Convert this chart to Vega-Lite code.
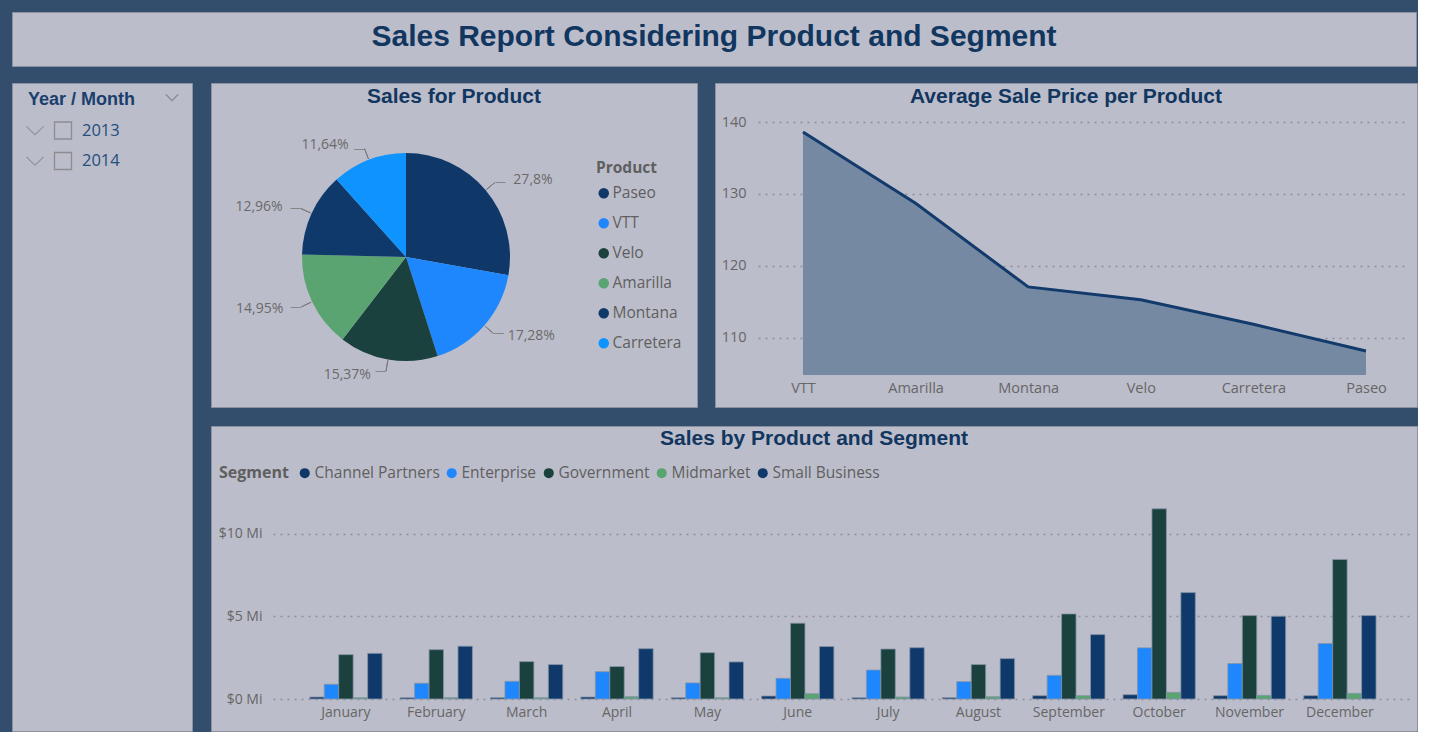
{
  "$schema": "https://vega.github.io/schema/vega-lite/v6.json",
  "background": "#334e6c",
  "padding": {"left": 11, "top": 11, "right": 0, "bottom": 0},
  "spacing": 15,
  "resolve": {"scale": {"color": "independent"}, "legend": {"color": "independent"}},
  "config": {
    "view": {"fill": "#bcbdca", "stroke": "#8a92a2", "strokeWidth": 1},
    "locale": {"number": {"decimal": ",", "thousands": ".", "grouping": [3], "currency": ["$", ""]}},
    "font": "Open Sans",
    "title": {"font": "Liberation Sans", "fontSize": 21, "fontWeight": "bold", "color": "#11365f", "anchor": "middle", "baseline": "alphabetic"},
    "axis": {"domain": false, "ticks": false, "tickSize": 0, "labelFont": "Open Sans", "labelColor": "#666666", "gridColor": "#8d909b", "gridDash": [2, 5], "gridWidth": 1.5},
    "legend": {"labelFont": "Open Sans", "titleFont": "Open Sans", "labelColor": "#5f5f5f", "titleColor": "#5f5f5f", "symbolType": "circle", "symbolStrokeWidth": 0}
  },
  "vconcat": [
    {
      "width": 1404,
      "height": 54,
      "view": {"fill": "#bcbdca", "stroke": "#8a92a2", "strokeWidth": 1},
      "data": {"values": [{"Report": "Sales Report Considering Product and Segment"}]},
      "mark": {"type": "text", "font": "Liberation Sans", "fontSize": 30, "fontWeight": "bold", "color": "#11365f", "baseline": "alphabetic", "dy": 7},
      "encoding": {"text": {"field": "Report", "type": "nominal"}}
    },
    {
      "hconcat": [
        {
          "width": 180,
          "height": 648,
          "view": {"fill": "#bcbdca", "stroke": "#8a92a2", "strokeWidth": 1},
          "data": {"values": [
            {"Item": "Year / Month", "Level": "Hierarchy"},
            {"Item": "2013", "Level": "Year"},
            {"Item": "2014", "Level": "Year"}
          ]},
          "encoding": {"y": {"field": "Item", "type": "ordinal", "sort": null, "scale": {"type": "point", "range": [17, 78], "padding": 0}, "axis": null}},
          "layer": [
            {
              "transform": [{"filter": "datum.Level === 'Hierarchy'"}],
              "mark": {"type": "text", "align": "left", "baseline": "middle", "dx": -74, "font": "Liberation Sans", "fontSize": 18, "fontWeight": "bold", "color": "#1a3f6e"},
              "encoding": {"text": {"field": "Item", "type": "nominal"}}
            },
            {
              "transform": [{"filter": "datum.Level === 'Hierarchy'"}],
              "mark": {"type": "point", "shape": "M-1,-0.5L0,0.5L1,-0.5", "size": 150, "filled": false, "color": "#707070", "strokeWidth": 1.2, "xOffset": 70, "yOffset": -2.5}
            },
            {
              "transform": [{"filter": "datum.Level === 'Year'"}],
              "mark": {"type": "point", "shape": "M-1,-0.48L0,0.48L1,-0.48", "size": 300, "filled": false, "color": "#808080", "strokeWidth": 1.1, "xOffset": -67}
            },
            {
              "transform": [{"filter": "datum.Level === 'Year'"}],
              "mark": {"type": "point", "shape": "square", "size": 289, "filled": false, "color": "#7a7a7a", "strokeWidth": 1.3, "xOffset": -39}
            },
            {
              "transform": [{"filter": "datum.Level === 'Year'"}],
              "mark": {"type": "text", "align": "left", "baseline": "middle", "dx": -20, "fontSize": 16.5, "color": "#234e7e", "font": "Open Sans"},
              "encoding": {"text": {"field": "Item", "type": "nominal"}}
            }
          ]
        },
        {
          "vconcat": [
            {
              "hconcat": [
                {
                  "width": 486,
                  "height": 324,
                  "view": {"fill": "#bcbdca", "stroke": "#8a92a2", "strokeWidth": 1},
                  "title": {"text": "Sales for Product", "offset": -24},
                  "data": {"values": [
                    {"Product": "Paseo", "Share": 0.278},
                    {"Product": "VTT", "Share": 0.1728},
                    {"Product": "Velo", "Share": 0.1537},
                    {"Product": "Amarilla", "Share": 0.1495},
                    {"Product": "Montana", "Share": 0.1296},
                    {"Product": "Carretera", "Share": 0.1164}
                  ]},
                  "encoding": {
                    "theta": {"field": "Share", "type": "quantitative", "stack": true},
                    "order": {"field": "Share", "type": "quantitative", "sort": "descending"}
                  },
                  "layer": [
                    {
                      "mark": {"type": "arc", "radius": 104, "xOffset": -48, "yOffset": 12},
                      "encoding": {
                        "color": {
                          "field": "Product", "type": "nominal", "sort": null,
                          "scale": {"domain": ["Paseo", "VTT", "Velo", "Amarilla", "Montana", "Carretera"], "range": ["#0f3868", "#1e87fe", "#1a413d", "#5aa472", "#10396b", "#0f93fe"]},
                          "legend": {"orient": "none", "legendX": 385, "legendY": 78, "titleFontSize": 15.5, "titleFontWeight": "bold", "labelFontSize": 15.5, "symbolSize": 110, "rowPadding": 13, "labelOffset": 1, "titlePadding": 9}
                        }
                      }
                    },
                    {
                      "mark": {"type": "arc", "radius": 116, "radius2": 105, "padAngle": 2, "fillOpacity": 0, "stroke": "#7a7a7a", "strokeWidth": 1, "xOffset": -48, "yOffset": 12},
                      "encoding": {"detail": {"field": "Product", "type": "nominal"}}
                    },
                    {
                      "mark": {"type": "text", "radius": 116, "xOffset": -42.5, "yOffset": 12, "fontSize": 11, "color": "#7a7a7a", "font": "DejaVu Sans"},
                      "encoding": {
                        "detail": {"field": "Product", "type": "nominal"},
                        "text": {"condition": {"test": "indexof(['Paseo', 'VTT'], datum.Product) >= 0", "value": "—"}, "value": ""}
                      }
                    },
                    {
                      "mark": {"type": "text", "radius": 116, "xOffset": -53.5, "yOffset": 12, "fontSize": 11, "color": "#7a7a7a", "font": "DejaVu Sans"},
                      "encoding": {
                        "detail": {"field": "Product", "type": "nominal"},
                        "text": {"condition": {"test": "indexof(['Paseo', 'VTT'], datum.Product) < 0", "value": "—"}, "value": ""}
                      }
                    },
                    {
                      "mark": {"type": "text", "radius": 120, "xOffset": -13, "yOffset": 12, "fontSize": 14, "color": "#6a6a6a", "font": "Open Sans"},
                      "encoding": {
                        "detail": {"field": "Product", "type": "nominal"},
                        "text": {"condition": {"test": "indexof(['Paseo', 'VTT'], datum.Product) >= 0", "field": "Share", "type": "quantitative", "format": ".4~p"}, "value": ""}
                      }
                    },
                    {
                      "mark": {"type": "text", "radius": 120, "xOffset": -86, "yOffset": 12, "fontSize": 14, "color": "#6a6a6a", "font": "Open Sans"},
                      "encoding": {
                        "detail": {"field": "Product", "type": "nominal"},
                        "text": {"condition": {"test": "indexof(['Paseo', 'VTT'], datum.Product) < 0", "field": "Share", "type": "quantitative", "format": ".4~p"}, "value": ""}
                      }
                    }
                  ]
                },
                {
                  "width": 702,
                  "height": 324,
                  "view": {"fill": "#bcbdca", "stroke": "#8a92a2", "strokeWidth": 1},
                  "title": {"text": "Average Sale Price per Product", "offset": -24},
                  "data": {"values": [
                    {"Product": "VTT", "Avg Price": 138.6},
                    {"Product": "Amarilla", "Avg Price": 128.7},
                    {"Product": "Montana", "Avg Price": 117.1},
                    {"Product": "Velo", "Avg Price": 115.3},
                    {"Product": "Carretera", "Avg Price": 111.9},
                    {"Product": "Paseo", "Avg Price": 108.2}
                  ]},
                  "encoding": {
                    "x": {"field": "Product", "type": "nominal", "sort": null, "scale": {"type": "point", "range": [43, 692], "padding": 0.382, "align": 0.523}, "axis": {"title": null, "labelAngle": 0, "labelPadding": -19, "labelBaseline": "middle", "labelFontSize": 14.5, "grid": false}},
                    "y": {"field": "Avg Price", "type": "quantitative", "scale": {"domain": [104.86, 140], "range": [292, 39], "zero": false, "nice": false}, "axis": {"title": null, "values": [110, 120, 130, 140], "labelPadding": -31, "labelAlign": "right", "labelBaseline": "middle", "labelFontSize": 14.5, "grid": true}}
                  },
                  "layer": [
                    {"mark": {"type": "area", "color": "#7589a3", "opacity": 1}, "encoding": {"y2": {"datum": 104.86}}},
                    {"mark": {"type": "line", "color": "#123b6c", "strokeWidth": 3}, "encoding": {}}
                  ]
                }
              ],
              "spacing": 16,
              "resolve": {"scale": {"color": "independent"}, "legend": {"color": "independent"}}
            },
            {
              "width": 1206,
              "height": 305,
              "view": {"fill": "#bcbdca", "stroke": "#8a92a2", "strokeWidth": 1},
              "title": {"text": "Sales by Product and Segment", "offset": -23},
              "data": {"values": [
                {"Month": "January", "Segment": "Channel Partners", "Sales (Mi)": 0.12},
                {"Month": "January", "Segment": "Enterprise", "Sales (Mi)": 0.89},
                {"Month": "January", "Segment": "Government", "Sales (Mi)": 2.68},
                {"Month": "January", "Segment": "Midmarket", "Sales (Mi)": 0.08},
                {"Month": "January", "Segment": "Small Business", "Sales (Mi)": 2.76},
                {"Month": "February", "Segment": "Channel Partners", "Sales (Mi)": 0.08},
                {"Month": "February", "Segment": "Enterprise", "Sales (Mi)": 0.95},
                {"Month": "February", "Segment": "Government", "Sales (Mi)": 2.98},
                {"Month": "February", "Segment": "Midmarket", "Sales (Mi)": 0.08},
                {"Month": "February", "Segment": "Small Business", "Sales (Mi)": 3.19},
                {"Month": "March", "Segment": "Channel Partners", "Sales (Mi)": 0.08},
                {"Month": "March", "Segment": "Enterprise", "Sales (Mi)": 1.07},
                {"Month": "March", "Segment": "Government", "Sales (Mi)": 2.26},
                {"Month": "March", "Segment": "Midmarket", "Sales (Mi)": 0.08},
                {"Month": "March", "Segment": "Small Business", "Sales (Mi)": 2.08},
                {"Month": "April", "Segment": "Channel Partners", "Sales (Mi)": 0.12},
                {"Month": "April", "Segment": "Enterprise", "Sales (Mi)": 1.65},
                {"Month": "April", "Segment": "Government", "Sales (Mi)": 1.96},
                {"Month": "April", "Segment": "Midmarket", "Sales (Mi)": 0.14},
                {"Month": "April", "Segment": "Small Business", "Sales (Mi)": 3.04},
                {"Month": "May", "Segment": "Channel Partners", "Sales (Mi)": 0.08},
                {"Month": "May", "Segment": "Enterprise", "Sales (Mi)": 0.97},
                {"Month": "May", "Segment": "Government", "Sales (Mi)": 2.8},
                {"Month": "May", "Segment": "Midmarket", "Sales (Mi)": 0.08},
                {"Month": "May", "Segment": "Small Business", "Sales (Mi)": 2.24},
                {"Month": "June", "Segment": "Channel Partners", "Sales (Mi)": 0.18},
                {"Month": "June", "Segment": "Enterprise", "Sales (Mi)": 1.25},
                {"Month": "June", "Segment": "Government", "Sales (Mi)": 4.58},
                {"Month": "June", "Segment": "Midmarket", "Sales (Mi)": 0.32},
                {"Month": "June", "Segment": "Small Business", "Sales (Mi)": 3.17},
                {"Month": "July", "Segment": "Channel Partners", "Sales (Mi)": 0.08},
                {"Month": "July", "Segment": "Enterprise", "Sales (Mi)": 1.75},
                {"Month": "July", "Segment": "Government", "Sales (Mi)": 3.02},
                {"Month": "July", "Segment": "Midmarket", "Sales (Mi)": 0.12},
                {"Month": "July", "Segment": "Small Business", "Sales (Mi)": 3.1},
                {"Month": "August", "Segment": "Channel Partners", "Sales (Mi)": 0.08},
                {"Month": "August", "Segment": "Enterprise", "Sales (Mi)": 1.05},
                {"Month": "August", "Segment": "Government", "Sales (Mi)": 2.08},
                {"Month": "August", "Segment": "Midmarket", "Sales (Mi)": 0.14},
                {"Month": "August", "Segment": "Small Business", "Sales (Mi)": 2.44},
                {"Month": "September", "Segment": "Channel Partners", "Sales (Mi)": 0.2},
                {"Month": "September", "Segment": "Enterprise", "Sales (Mi)": 1.43},
                {"Month": "September", "Segment": "Government", "Sales (Mi)": 5.14},
                {"Month": "September", "Segment": "Midmarket", "Sales (Mi)": 0.2},
                {"Month": "September", "Segment": "Small Business", "Sales (Mi)": 3.89},
                {"Month": "October", "Segment": "Channel Partners", "Sales (Mi)": 0.26},
                {"Month": "October", "Segment": "Enterprise", "Sales (Mi)": 3.09},
                {"Month": "October", "Segment": "Government", "Sales (Mi)": 11.49},
                {"Month": "October", "Segment": "Midmarket", "Sales (Mi)": 0.4},
                {"Month": "October", "Segment": "Small Business", "Sales (Mi)": 6.43},
                {"Month": "November", "Segment": "Channel Partners", "Sales (Mi)": 0.2},
                {"Month": "November", "Segment": "Enterprise", "Sales (Mi)": 2.14},
                {"Month": "November", "Segment": "Government", "Sales (Mi)": 5.04},
                {"Month": "November", "Segment": "Midmarket", "Sales (Mi)": 0.22},
                {"Month": "November", "Segment": "Small Business", "Sales (Mi)": 5.0},
                {"Month": "December", "Segment": "Channel Partners", "Sales (Mi)": 0.2},
                {"Month": "December", "Segment": "Enterprise", "Sales (Mi)": 3.35},
                {"Month": "December", "Segment": "Government", "Sales (Mi)": 8.43},
                {"Month": "December", "Segment": "Midmarket", "Sales (Mi)": 0.34},
                {"Month": "December", "Segment": "Small Business", "Sales (Mi)": 5.04}
              ]},
              "mark": {"type": "bar", "stroke": "#8593a6", "strokeWidth": 1, "strokeOpacity": 0.8},
              "encoding": {
                "x": {"field": "Month", "type": "nominal", "sort": null, "scale": {"range": [62, 1199], "paddingInner": 0.2, "paddingOuter": 0.3915, "align": 0.52}, "axis": {"title": null, "labelAngle": 0, "labelPadding": -19, "labelBaseline": "middle", "labelFontSize": 14, "grid": false}},
                "xOffset": {"field": "Segment", "type": "nominal", "sort": null},
                "y": {"field": "Sales (Mi)", "type": "quantitative", "scale": {"domain": [0, 10], "range": [273, 107.5], "nice": false}, "axis": {"title": null, "values": [0, 5, 10], "labelExpr": "'$' + datum.value + ' Mi'", "labelPadding": -51, "labelAlign": "right", "labelBaseline": "middle", "labelFontSize": 14, "grid": true}},
                "color": {
                  "field": "Segment", "type": "nominal", "sort": null,
                  "scale": {"domain": ["Channel Partners", "Enterprise", "Government", "Midmarket", "Small Business"], "range": ["#0f3868", "#1e87fe", "#1a413d", "#5aa472", "#10396b"]},
                  "legend": {"orient": "none", "legendX": 8, "legendY": 39, "direction": "horizontal", "titleOrient": "left", "titleFontSize": 16, "titleFontWeight": "bold", "labelFontSize": 15.5, "symbolSize": 100, "columnPadding": 4, "labelOffset": 2, "titlePadding": 8}
                }
              }
            }
          ],
          "spacing": 17,
          "resolve": {"scale": {"color": "independent"}, "legend": {"color": "independent"}}
        }
      ],
      "spacing": 17,
      "resolve": {"scale": {"color": "independent"}, "legend": {"color": "independent"}}
    }
  ]
}
